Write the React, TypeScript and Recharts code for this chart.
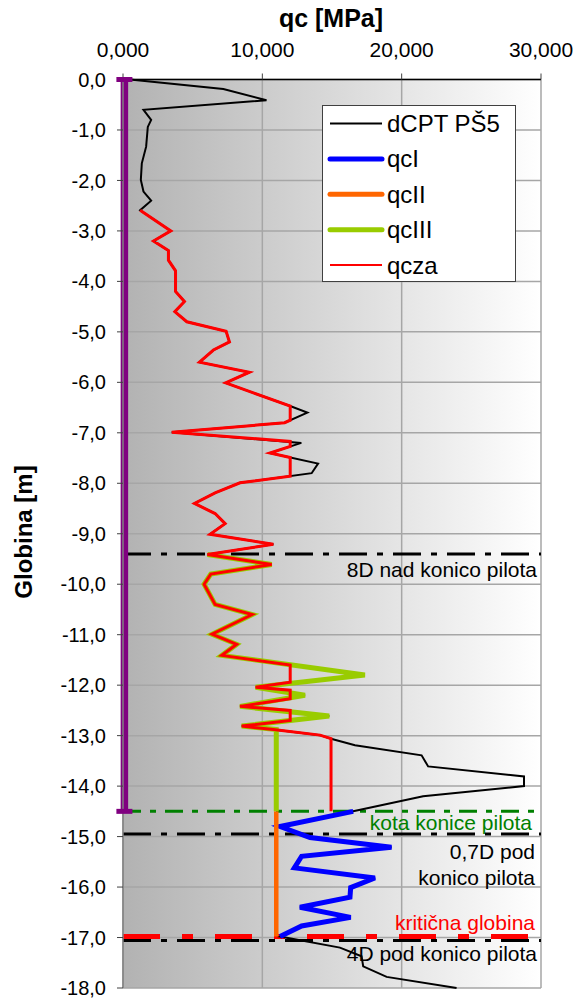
import {
  CartesianGrid,
  Legend,
  Line,
  LineChart,
  ReferenceLine,
  XAxis,
  YAxis,
} from 'recharts';

const FONT = '"Liberation Sans", Arial, sans-serif';

// dCPT PŠ5 sounding: depth [m] and cone resistance qc [MPa]
const cptDepth = [
  0, -0.19, -0.41, -0.6, -0.8, -0.94, -1.33, -1.66, -1.99, -2.22, -2.4, -2.59,
  -3.0, -3.2, -3.39, -3.58, -3.79, -4.2, -4.4, -4.6, -4.8, -4.99, -5.2, -5.36,
  -5.6, -5.8, -6.01, -6.21, -6.47, -6.6, -6.8, -6.99, -7.2, -7.4, -7.61, -7.8,
  -7.99, -8.19, -8.4, -8.6, -8.8, -9.01, -9.21, -9.41, -9.61, -9.8, -10.0,
  -10.4, -10.6, -10.99, -11.19, -11.41, -11.8, -12.04, -12.2, -12.42, -12.61,
  -12.81, -12.88, -12.99, -13.06, -13.19, -13.39, -13.61, -13.81, -14.0, -14.2,
  -14.5, -14.8, -15.02, -15.21, -15.39, -15.62, -15.82, -16.01, -16.2, -16.4,
  -16.6, -16.77, -16.98, -17.2, -17.37, -17.57, -17.78, -18.0,
];
const cptQc = [
  0.5, 7.2, 10.3, 1.47, 2.02, 1.78, 1.66, 1.35, 1.28, 1.47, 2.02, 1.23, 3.43,
  2.19, 3.26, 3.26, 3.77, 3.77, 4.41, 3.72, 4.58, 7.4, 7.64, 6.49, 5.49, 9.07,
  7.37, 9.36, 11.99, 13.23, 11.6, 3.5, 12.8, 10.55, 14.0, 13.54, 8.4, 6.61,
  5.13, 6.61, 7.33, 6.25, 10.79, 6.06, 10.67, 6.3, 5.82, 6.61, 9.28, 6.39,
  8.16, 7.09, 17.36, 9.52, 13.06, 8.4, 14.8, 8.52, 10.79, 14.14, 14.93, 16.65,
  21.43, 21.9, 28.78, 28.78, 21.54, 16.52, 11.27, 13.42, 19.27, 12.82, 12.3,
  18.08, 16.34, 16.29, 12.7, 16.34, 12.82, 11.27, 15.57, 17.12, 17.24, 18.92,
  23.94,
];

// qcI – below the pile tip
const qc1Depth = [
  -14.5, -14.8, -15.02, -15.21, -15.39, -15.62, -15.82, -16.01, -16.2, -16.4,
  -16.6, -16.77, -16.98,
];
const qc1Qc = [
  16.52, 11.27, 13.42, 19.27, 12.82, 12.3, 18.08, 16.34, 16.29, 12.7, 16.34,
  12.82, 11.27,
];

// qcII
const qc2Depth = [-14.5, -16.98];
const qc2Qc = [11.0, 11.0];

// qcIII – above the pile tip
const qc3Depth = [
  -9.41, -9.61, -9.8, -10.0, -10.4, -10.6, -10.99, -11.19, -11.41, -11.8,
  -12.04, -12.2, -12.42, -12.61, -12.81, -12.88, -14.5,
];
const qc3Qc = [
  6.06, 10.67, 6.3, 5.82, 6.61, 9.28, 6.39, 8.16, 7.09, 17.36, 9.52, 13.06,
  8.4, 14.8, 8.52, 11.0, 11.0,
];

// qcza – shaft resistance values (capped at 12 MPa)
const qczaDepth = [
  -2.59, -3.0, -3.2, -3.39, -3.58, -3.79, -4.2, -4.4, -4.6, -4.8, -4.99, -5.2,
  -5.36, -5.6, -5.8, -6.01, -6.21, -6.47, -6.75, -6.8, -6.99, -7.17, -7.27,
  -7.4, -7.49, -7.86, -7.99, -8.19, -8.4, -8.6, -8.8, -9.01, -9.21, -9.41,
  -9.61, -9.8, -10.0, -10.4, -10.6, -10.99, -11.19, -11.41, -11.6, -11.94,
  -12.04, -12.1, -12.27, -12.42, -12.5, -12.7, -12.81, -12.88, -12.99, -13.06,
  -14.5,
];
const qczaQc = [
  1.23, 3.43, 2.19, 3.26, 3.26, 3.77, 3.77, 4.41, 3.72, 4.58, 7.4, 7.64, 6.49,
  5.49, 9.07, 7.37, 9.36, 12, 12, 11.6, 3.5, 12, 12, 10.55, 12, 12, 8.4, 6.61,
  5.13, 6.61, 7.33, 6.25, 10.79, 6.06, 10.67, 6.3, 5.82, 6.61, 9.28, 6.39,
  8.16, 7.09, 12, 12, 9.52, 12, 12, 8.4, 12, 12, 8.52, 10.79, 14.14, 14.93,
  14.93,
];

// pile shaft
const pileDepth = [0, -14.5];
const pileQc = [0.1, 0.1];

// reference depths
const depth8D = -9.4;
const depthTip = -14.5;
const depth07D = -14.95;
const depthCritical = -16.98;
const depth4D = -17.06;

const xTicks = [0, 10, 20, 30];
const yTicks = [
  0, -1, -2, -3, -4, -5, -6, -7, -8, -9, -10, -11, -12, -13, -14, -15, -16,
  -17, -18,
];

const toRows = (d: number[], q: number[]) => d.map((v, i) => ({ d: v, q: q[i] }));

const cptData = toRows(cptDepth, cptQc);
const qc1Data = toRows(qc1Depth, qc1Qc);
const qc2Data = toRows(qc2Depth, qc2Qc);
const qc3Data = toRows(qc3Depth, qc3Qc);
const qczaData = toRows(qczaDepth, qczaQc);
const pileData = toRows(pileDepth, pileQc);

const legendItems = [
  { name: 'dCPT PŠ5', color: '#000000', width: 2 },
  { name: 'qcI', color: '#0000ff', width: 5 },
  { name: 'qcII', color: '#ff6600', width: 5 },
  { name: 'qcIII', color: '#99cc00', width: 5 },
  { name: 'qcza', color: '#ff0000', width: 2 },
];

const fmtX = (v: number) => v.toFixed(3).replace('.', ',');
const fmtY = (v: number) => (v === 0 ? '0,0' : v.toFixed(1).replace('.', ','));

function LegendBox() {
  return (
    <svg width={195} height={178} style={{ display: 'block' }}>
      <rect x={0.5} y={0.5} width={193} height={176} fill="#ffffff" stroke="#404040" />
      {legendItems.map((it, i) => {
        const y = 18.5 + i * 35.4;
        return (
          <g key={it.name}>
            <line
              x1={8}
              x2={60}
              y1={y}
              y2={y}
              stroke={it.color}
              strokeWidth={it.width}
              strokeLinecap={it.width > 3 ? 'round' : 'butt'}
            />
            <text x={65} y={y + 8.5} fontSize={24} fontFamily={FONT} fill="#000">
              {it.name}
            </text>
          </g>
        );
      })}
    </svg>
  );
}

function note(lines: string[], color: string, offsets: number[], inset: number) {
  return (props: any) => {
    const vb = props.viewBox || {};
    const right = vb.x + vb.width - inset;
    return (
      <g>
        {lines.map((t, i) => (
          <text
            key={t}
            x={right}
            y={vb.y + offsets[i]}
            textAnchor="end"
            fill={color}
            fontSize={21}
            fontFamily={FONT}
          >
            {t}
          </text>
        ))}
      </g>
    );
  };
}

const pileCap = (p: any) => {
  if (p.cx == null || p.cy == null) return <g key={p.index} />;
  return (
    <rect
      key={`cap-${p.index}`}
      x={p.cx - 8}
      y={p.cy - 2.5}
      width={16}
      height={5}
      fill="#800080"
    />
  );
};

export default function App() {
  return (
    <div style={{ position: 'absolute', left: 0, top: 0, fontFamily: FONT }}>
      <LineChart
        width={580}
        height={998}
        layout="vertical"
        margin={{ top: 50, right: 39, bottom: 10, left: 63 }}
      >
        <defs>
          <linearGradient id="plotBg" x1="0" y1="0" x2="1" y2="0">
            <stop offset="0%" stopColor="#b2b2b2" />
            <stop offset="100%" stopColor="#ffffff" />
          </linearGradient>
        </defs>
        <CartesianGrid
          fill="url(#plotBg)"
          fillOpacity={1}
          stroke="#a6a6a6"
          strokeWidth={1.5}
        />
        <XAxis
          type="number"
          dataKey="q"
          orientation="top"
          domain={[0, 30]}
          ticks={xTicks}
          tickFormatter={fmtX}
          height={29.5}
          interval={0}
          tickSize={6}
          tickMargin={17}
          axisLine={{ stroke: '#000', strokeWidth: 1.5 }}
          tickLine={{ stroke: '#404040' }}
          tick={{ fill: '#000', fontSize: 21, fontFamily: FONT }}
          label={{
            content: () => (
              <text
                x={331}
                y={27}
                textAnchor="middle"
                fontSize={25}
                fontWeight="bold"
                fontFamily={FONT}
                fill="#000"
              >
                qc [MPa]
              </text>
            ),
          }}
        />
        <YAxis
          type="number"
          dataKey="d"
          domain={[-18, 0]}
          ticks={yTicks}
          tickFormatter={fmtY}
          reversed
          width={60}
          interval={0}
          tickSize={6}
          tickMargin={11}
          axisLine={{ stroke: '#808080', strokeWidth: 1.5 }}
          tickLine={{ stroke: '#404040' }}
          tick={{ fill: '#000', fontSize: 20, fontFamily: FONT }}
          label={{
            content: () => (
              <text
                x={32}
                y={532}
                transform="rotate(-90 32 532)"
                textAnchor="middle"
                fontSize={24}
                fontWeight="bold"
                fontFamily={FONT}
                fill="#000"
              >
                Globina [m]
              </text>
            ),
          }}
        />

        <ReferenceLine
          y={depth8D}
          stroke="#000"
          strokeWidth={3}
          strokeDasharray="28 10 6 10"
          label={{ content: note(['8D nad konico pilota'], '#000', [23.5], 4) }}
        />
        <ReferenceLine
          y={depthTip}
          stroke="#008000"
          strokeWidth={3}
          strokeDasharray="18 9 6 9"
          label={{ content: note(['kota konice pilota'], '#008000', [19], 9) }}
        />
        <ReferenceLine
          y={depth07D}
          stroke="#000"
          strokeWidth={3}
          strokeDasharray="28 10 6 10"
          label={{ content: note(['0,7D pod', 'konico pilota'], '#000', [24.5, 50.5], 6) }}
        />
        <ReferenceLine
          y={depth4D}
          stroke="#000"
          strokeWidth={3}
          strokeDasharray="28 10 6 10"
          label={{ content: note(['4D pod konico pilota'], '#000', [20.5], 4) }}
        />
        <ReferenceLine
          y={depthCritical}
          stroke="#ff0000"
          strokeWidth={5}
          strokeDasharray="37 22 11 22"
          label={{ content: note(['kritična globina'], '#ff0000', [-6.5], 6) }}
        />

        <Line
          data={cptData}
          dataKey="q"
          name="dCPT PŠ5"
          stroke="#000000"
          strokeWidth={2}
          dot={false}
          isAnimationActive={false}
        />
        <Line
          data={qc1Data}
          dataKey="q"
          name="qcI"
          stroke="#0000ff"
          strokeWidth={5}
          dot={false}
          isAnimationActive={false}
        />
        <Line
          data={qc2Data}
          dataKey="q"
          name="qcII"
          stroke="#ff6600"
          strokeWidth={4.5}
          dot={false}
          isAnimationActive={false}
        />
        <Line
          data={qc3Data}
          dataKey="q"
          name="qcIII"
          stroke="#99cc00"
          strokeWidth={5}
          dot={false}
          isAnimationActive={false}
        />
        <Line
          data={qczaData}
          dataKey="q"
          name="qcza"
          stroke="#ff0000"
          strokeWidth={3}
          dot={false}
          isAnimationActive={false}
        />
        <Line
          data={pileData}
          dataKey="q"
          name="pilot"
          legendType="none"
          stroke="#800080"
          strokeWidth={7.5}
          dot={pileCap}
          isAnimationActive={false}
        />

        <Legend
          layout="vertical"
          align="center"
          verticalAlign="middle"
          content={() => <LegendBox />}
          wrapperStyle={{ left: 322, top: 105, width: 195, height: 178 }}
        />
      </LineChart>
    </div>
  );
}
